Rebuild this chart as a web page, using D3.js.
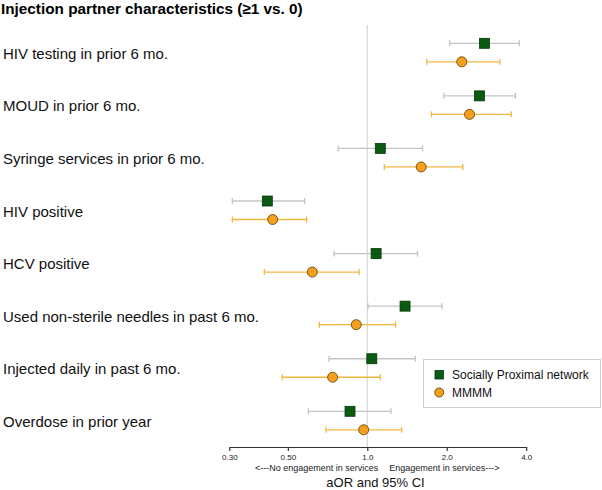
<!DOCTYPE html>
<html>
<head>
<meta charset="utf-8">
<script src="https://cdn.jsdelivr.net/npm/d3@7"></script>
<style>
  body { margin: 0; background: #fff; }
  text { font-family: "Liberation Sans", Arial, sans-serif; }
</style>
</head>
<body>
<div id="chart"></div>
<script>
// donnees
const categories = [
  "HIV testing in prior 6 mo.",
  "MOUD in prior 6 mo.",
  "Syringe services in prior 6 mo.",
  "HIV positive",
  "HCV positive",
  "Used non-sterile needles in past 6 mo.",
  "Injected daily in past 6 mo.",
  "Overdose in prior year"
];

// Socially Proximal network : aOR, borne basse, borne haute
const spOR = [2.78, 2.66, 1.12, 0.418, 1.08, 1.39, 1.04, 0.86];
const spLow = [2.05, 1.95, 0.776, 0.308, 0.748, 1.006, 0.716, 0.598];
const spHigh = [3.77, 3.64, 1.62, 0.579, 1.55, 1.92, 1.52, 1.23];

// MMMM
const mmOR = [2.28, 2.44, 1.6, 0.438, 0.619, 0.908, 0.739, 0.969];
const mmLow = [1.68, 1.75, 1.16, 0.308, 0.407, 0.658, 0.476, 0.697];
const mmHigh = [3.18, 3.51, 2.3, 0.589, 0.932, 1.28, 1.12, 1.35];

const tickValues = [0.3, 0.5, 1.0, 2.0, 4.0];
const tickLabels = ["0.30", "0.50", "1.0", "2.0", "4.0"];

const width = 602,
  height = 490;

const svg = d3
  .select("#chart")
  .append("svg")
  .attr("width", width)
  .attr("height", height);

// echelles
const x = d3.scaleLog().domain([0.3, 4]).range([229.3, 526.2]);
const y = d3.scalePoint().domain(categories).range([43.3, 411.3]);
const offset = 18.5; // decalage de la serie MMMM
const axisY = 447;

// titre
svg
  .append("text")
  .attr("x", 1)
  .attr("y", 13.5)
  .style("font-size", "15.3px")
  .style("font-weight", "bold")
  .text("Injection partner characteristics (\u22651 vs. 0)");

// ligne de reference a 1
svg
  .append("line")
  .attr("x1", x(1))
  .attr("x2", x(1))
  .attr("y1", 25)
  .attr("y2", axisY)
  .attr("stroke", "#cfcfcf")
  .attr("stroke-width", 1);

// etiquettes des lignes
svg
  .selectAll(".rowlabel")
  .data(categories)
  .enter()
  .append("text")
  .attr("class", "rowlabel")
  .attr("x", 3)
  .attr("y", (d) => y(d) + 15.5)
  .style("font-size", "15px")
  .style("fill", "#111")
  .text((d) => d);

// fonction pour dessiner les intervalles
function drawCI(low, high, dy, color) {
  const g = svg.append("g");
  categories.forEach(function (c, i) {
    const yy = y(c) + dy;
    g.append("line")
      .attr("x1", x(low[i]))
      .attr("x2", x(high[i]))
      .attr("y1", yy)
      .attr("y2", yy)
      .attr("stroke", color)
      .attr("stroke-width", 1.3);
    [low[i], high[i]].forEach(function (v) {
      g.append("line")
        .attr("x1", x(v))
        .attr("x2", x(v))
        .attr("y1", yy - 3)
        .attr("y2", yy + 3)
        .attr("stroke", color)
        .attr("stroke-width", 1.3);
    });
  });
}

drawCI(spLow, spHigh, 0, "#c4c4c4");
drawCI(mmLow, mmHigh, offset, "#f2b73f");

// carres verts
svg
  .selectAll(".sp")
  .data(spOR)
  .enter()
  .append("rect")
  .attr("class", "sp")
  .attr("x", (d) => x(d) - 5)
  .attr("y", (d, i) => y(categories[i]) - 5)
  .attr("width", 10)
  .attr("height", 10)
  .attr("fill", "#0b5a12")
  .attr("stroke", "#063a08")
  .attr("stroke-width", 0.8);

// cercles orange
svg
  .selectAll(".mm")
  .data(mmOR)
  .enter()
  .append("circle")
  .attr("class", "mm")
  .attr("cx", (d) => x(d))
  .attr("cy", (d, i) => y(categories[i]) + offset)
  .attr("r", 5)
  .attr("fill", "#f5a01d")
  .attr("stroke", "#6b4a10")
  .attr("stroke-width", 0.9);

// axe des x
const xAxis = d3
  .axisBottom(x)
  .tickValues(tickValues)
  .tickFormat((d, i) => tickLabels[i])
  .tickSize(4)
  .tickSizeOuter(0);

const ax = svg
  .append("g")
  .attr("transform", "translate(0," + axisY + ")")
  .call(xAxis);

ax.select(".domain").attr("stroke", "#333").attr("stroke-width", 1.2);
ax.selectAll(".tick line").attr("stroke", "#333").attr("stroke-width", 1.2);
ax.selectAll(".tick text")
  .attr("y", 7.5)
  .style("font-family", "Liberation Sans, Arial, sans-serif")
  .style("font-size", "8px")
  .style("fill", "#222");

// fleches sous l'axe
svg
  .append("text")
  .attr("x", x(1) + 11)
  .attr("y", 471)
  .attr("text-anchor", "end")
  .style("font-size", "9px")
  .style("fill", "#222")
  .text("<---No engagement in services");

svg
  .append("text")
  .attr("x", x(1) + 22)
  .attr("y", 471)
  .attr("text-anchor", "start")
  .style("font-size", "9px")
  .style("fill", "#222")
  .text("Engagement in services--->");

svg
  .append("text")
  .attr("x", 375.5)
  .attr("y", 487)
  .attr("text-anchor", "middle")
  .style("font-size", "13px")
  .style("fill", "#111")
  .text("aOR and 95% CI");

// ----------------- LEGENDE ----------------- //
const legend = svg.append("g");

legend
  .append("rect")
  .attr("x", 423.5)
  .attr("y", 359.5)
  .attr("width", 177)
  .attr("height", 48)
  .attr("fill", "#fff")
  .attr("stroke", "#cfcfcf");

legend
  .append("rect")
  .attr("x", 435)
  .attr("y", 370.5)
  .attr("width", 8.5)
  .attr("height", 8.5)
  .attr("fill", "#0b5a12")
  .attr("stroke", "#063a08")
  .attr("stroke-width", 0.8);

legend
  .append("circle")
  .attr("cx", 439.2)
  .attr("cy", 392.5)
  .attr("r", 4.5)
  .attr("fill", "#f5a01d")
  .attr("stroke", "#6b4a10")
  .attr("stroke-width", 0.9);

legend
  .append("text")
  .attr("x", 452)
  .attr("y", 379)
  .style("font-size", "12px")
  .style("fill", "#111")
  .text("Socially Proximal network");

legend
  .append("text")
  .attr("x", 452)
  .attr("y", 397)
  .style("font-size", "12px")
  .style("fill", "#111")
  .text("MMMM");
</script>
</body>
</html>
